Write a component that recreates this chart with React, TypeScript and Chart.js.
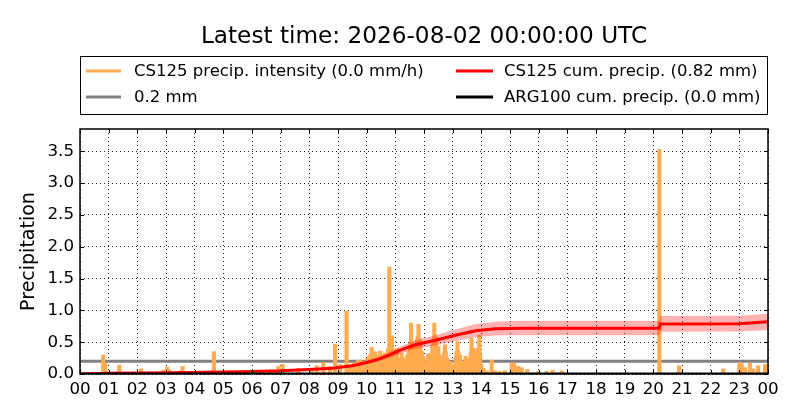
import React, { useEffect, useRef } from "react";
import { Chart, registerables } from "chart.js";

Chart.register(...registerables);

const titleText = "Latest time: 2026-08-02 00:00:00 UTC";
const yAxisTitle = "Precipitation";

const hourLabels = [
  "00", "01", "02", "03", "04", "05", "06", "07", "08", "09", "10", "11",
  "12", "13", "14", "15", "16", "17", "18", "19", "20", "21", "22", "23", "00",
];

const legendLabels = [
  "CS125 precip. intensity (0.0 mm/h)",
  "0.2 mm",
  "CS125 cum. precip. (0.82 mm)",
  "ARG100 cum. precip. (0.0 mm)",
];

// CS125 precipitation intensity (mm/h), hour of day
const intensityHours = [
  0.81, 0.88, 1.37, 2.13, 2.91, 3.04, 3.1, 3.5, 3.58, 4.67,
  6.69, 6.92, 7.07, 7.62, 8.08, 8.26, 8.49, 8.72, 8.9, 9.07,
  9.3, 9.42, 9.5, 9.55, 9.62, 9.7, 9.77, 9.85, 9.9, 9.98,
  10.03, 10.1, 10.17, 10.23, 10.29, 10.34, 10.38, 10.43, 10.47, 10.51,
  10.56, 10.6, 10.64, 10.68, 10.72, 10.75, 10.79, 10.83, 10.88, 10.92,
  10.96, 11.0, 11.05, 11.09, 11.14, 11.18, 11.22, 11.26, 11.3, 11.34,
  11.37, 11.42, 11.46, 11.51, 11.55, 11.58, 11.62, 11.66, 11.69, 11.72,
  11.75, 11.78, 11.81, 11.85, 11.88, 11.93, 11.98, 12.02, 12.06, 12.1,
  12.15, 12.18, 12.22, 12.26, 12.29, 12.33, 12.36, 12.4, 12.43, 12.47,
  12.5, 12.53, 12.56, 12.59, 12.62, 12.65, 12.68, 12.71, 12.73, 12.76,
  12.8, 12.85, 12.9, 12.95, 13.02, 13.06, 13.1, 13.13, 13.17, 13.21,
  13.25, 13.3, 13.37, 13.41, 13.45, 13.49, 13.52, 13.56, 13.59, 13.63,
  13.66, 13.69, 13.72, 13.75, 13.78, 13.82, 13.86, 13.9, 13.93, 13.96,
  14.0, 14.07, 14.2, 14.36, 14.48, 14.64, 14.82, 15.06, 15.14, 15.22,
  15.29, 15.41, 15.6, 15.99, 16.28, 16.49, 16.8, 20.21, 20.9, 22.44,
  23.0, 23.08, 23.2, 23.37, 23.49, 23.66, 23.9,
];
const intensityValues = [
  0.3, 0.17, 0.14, 0.08, 0.06, 0.11, 0.07, 0.05, 0.12, 0.35,
  0.06, 0.12, 0.15, 0.09, 0.08, 0.13, 0.18, 0.12, 0.47, 0.15,
  0.99, 0.14, 0.15, 0.17, 0.18, 0.21, 0.22, 0.2, 0.2, 0.19,
  0.25, 0.3, 0.42, 0.3, 0.35, 0.25, 0.3, 0.28, 0.36, 0.3,
  0.28, 0.25, 0.33, 0.3, 0.25, 0.4, 1.68, 0.5, 0.6, 0.3,
  0.37, 0.3, 0.4, 0.25, 0.22, 0.2, 0.33, 0.25, 0.18, 0.2,
  0.25, 0.3, 0.35, 0.45, 0.8, 0.5, 0.45, 0.35, 0.4, 0.45,
  0.55, 0.6, 0.78, 0.55, 0.5, 0.35, 0.27, 0.2, 0.15, 0.2,
  0.32, 0.28, 0.25, 0.3, 0.45, 0.55, 0.8, 0.6, 0.5, 0.4,
  0.43, 0.3, 0.25, 0.2, 0.21, 0.25, 0.3, 0.35, 0.46, 0.35,
  0.25, 0.2, 0.2, 0.15, 0.12, 0.15, 0.25, 0.35, 0.51, 0.35,
  0.3, 0.2, 0.2, 0.2, 0.28, 0.2, 0.15, 0.2, 0.25, 0.35,
  0.56, 0.4, 0.3, 0.3, 0.4, 0.3, 0.25, 0.4, 0.61, 0.3,
  0.15, 0.09, 0.05, 0.22, 0.05, 0.04, 0.05, 0.17, 0.17, 0.1,
  0.12, 0.1, 0.07, 0.04, 0.04, 0.06, 0.05, 3.53, 0.13, 0.08,
  0.18, 0.16, 0.1, 0.17, 0.08, 0.13, 0.15,
];

// CS125 cumulative precipitation (mm) with uncertainty band
const cumHours = [
  0, 1, 3, 5, 6, 7, 8, 8.8, 9.5, 10, 10.4, 10.8, 11.2, 11.7, 12.4,
  13.1, 13.8, 14.5, 15.5, 20.2, 20.25, 23, 24,
];
const cumValues = [
  0, 0.01, 0.02, 0.03, 0.04, 0.05, 0.07, 0.09, 0.13, 0.18, 0.23, 0.3, 0.38,
  0.46, 0.53, 0.61, 0.68, 0.71, 0.72, 0.72, 0.785, 0.79, 0.82,
];
const cumLower = [
  0, 0.0085, 0.017, 0.026, 0.034, 0.043, 0.06, 0.077, 0.11, 0.153, 0.196,
  0.255, 0.323, 0.391, 0.45, 0.519, 0.578, 0.604, 0.608, 0.608, 0.662, 0.668,
  0.69,
];
const cumUpper = [
  0, 0.0115, 0.023, 0.035, 0.046, 0.058, 0.08, 0.104, 0.15, 0.207, 0.265,
  0.345, 0.437, 0.529, 0.61, 0.7, 0.785, 0.822, 0.835, 0.835, 0.91, 0.915,
  0.945,
];

// ARG100 cumulative precipitation (mm)
const argHours = [0, 24];
const argValues = [0, 0];

// 0.2 mm reference line
const thresholdHours = [0, 24];
const thresholdValues = [0.2, 0.2];

const FONT = '"DejaVu Sans", "Liberation Sans", sans-serif';
const ORANGE = "#ffab50";
const GRAY = "#808080";
const RED = "#ff0000";
const BAND = "rgba(255,0,0,0.3)";

const xy = (xs: number[], ys: number[]) => xs.map((x, i) => ({ x, y: ys[i] }));

const decorPlugin = {
  id: "decor",
  afterDraw(chart: any) {
    const { ctx, chartArea: a } = chart;
    const xs = chart.scales.x;
    const ys = chart.scales.y;
    ctx.save();
    // inner ticks
    ctx.strokeStyle = "#000";
    ctx.lineWidth = 1;
    ctx.setLineDash([]);
    ctx.beginPath();
    xs.ticks.forEach((t: any) => {
      const px = Math.round(xs.getPixelForValue(t.value)) + 0.5;
      ctx.moveTo(px, a.bottom);
      ctx.lineTo(px, a.bottom - 4);
      ctx.moveTo(px, a.top);
      ctx.lineTo(px, a.top + 4);
    });
    ys.ticks.forEach((t: any) => {
      const py = Math.round(ys.getPixelForValue(t.value)) + 0.5;
      ctx.moveTo(a.left, py);
      ctx.lineTo(a.left + 4, py);
      ctx.moveTo(a.right, py);
      ctx.lineTo(a.right - 4, py);
    });
    ctx.stroke();
    // frame
    ctx.lineWidth = 1.5;
    ctx.strokeRect(a.left, a.top, a.right - a.left, a.bottom - a.top);

    // title
    ctx.fillStyle = "#000";
    ctx.font = `23.2px ${FONT}`;
    ctx.textAlign = "center";
    ctx.textBaseline = "alphabetic";
    ctx.fillText(titleText, (a.left + a.right) / 2, 43);

    // legend
    const boxL = a.left;
    const boxR = a.right;
    ctx.lineWidth = 1;
    ctx.strokeStyle = "#000";
    ctx.strokeRect(boxL + 0.5, 56.5, boxR - boxL - 1, 58);
    const colors = [ORANGE, GRAY, RED, "#000"];
    const entries = [
      { x0: 86, x1: 121, tx: 134, y: 71 },
      { x0: 86, x1: 121, tx: 134, y: 97 },
      { x0: 456, x1: 493, tx: 504, y: 71 },
      { x0: 456, x1: 493, tx: 504, y: 97 },
    ];
    ctx.font = `16.5px ${FONT}`;
    ctx.textAlign = "left";
    ctx.textBaseline = "middle";
    entries.forEach((e, i) => {
      ctx.strokeStyle = colors[i];
      ctx.lineWidth = 3;
      ctx.beginPath();
      ctx.moveTo(e.x0, e.y);
      ctx.lineTo(e.x1, e.y);
      ctx.stroke();
      ctx.fillStyle = "#000";
      ctx.fillText(legendLabels[i], e.tx, e.y + 1);
    });
    ctx.restore();
  },
};

export default function App() {
  const ref = useRef<HTMLCanvasElement | null>(null);

  useEffect(() => {
    if (!ref.current) return;
    const chart = new Chart(ref.current, {
      type: "line",
      data: {
        datasets: [
          {
            type: "line",
            label: "ARG100",
            data: xy(argHours, argValues),
            borderColor: "#000",
            borderWidth: 3,
            pointRadius: 0,
            order: 1,
          },
          {
            type: "line",
            label: "CS125 cum",
            data: xy(cumHours, cumValues),
            borderColor: RED,
            borderWidth: 3,
            pointRadius: 0,
            order: 2,
          },
          {
            type: "line",
            label: "upper",
            data: xy(cumHours, cumUpper),
            borderWidth: 0,
            borderColor: "rgba(0,0,0,0)",
            backgroundColor: BAND,
            pointRadius: 0,
            fill: "+1",
            order: 4,
          },
          {
            type: "line",
            label: "lower",
            data: xy(cumHours, cumLower),
            borderWidth: 0,
            borderColor: "rgba(0,0,0,0)",
            pointRadius: 0,
            fill: false,
            order: 4,
          },
          {
            type: "bar",
            label: "intensity",
            data: xy(intensityHours, intensityValues) as any,
            backgroundColor: ORANGE,
            borderWidth: 0,
            barThickness: 3.5,
            order: 5,
          },
          {
            type: "line",
            label: "threshold",
            data: xy(thresholdHours, thresholdValues),
            borderColor: GRAY,
            borderWidth: 3,
            pointRadius: 0,
            order: 6,
          },
        ],
      },
      options: {
        animation: false,
        responsive: false,
        devicePixelRatio: 1,
        layout: { padding: { top: 129, right: 32, left: 0, bottom: 0 } },
        plugins: {
          legend: { display: false },
          title: { display: false },
          tooltip: { enabled: false },
        },
        font: { family: FONT },
        scales: {
          x: {
            type: "linear",
            min: 0,
            max: 24,
            offset: false,
            afterFit: (s: any) => {
              s.height = 46;
            },
            ticks: {
              stepSize: 1,
              autoSkip: false,
              includeBounds: false,
              maxRotation: 0,
              padding: 6,
              color: "#000",
              font: { family: FONT, size: 16.7 },
              callback: (v: any) => hourLabels[Number(v)] ?? "",
            },
            grid: {
              color: "rgba(0,0,0,0.85)",
              lineWidth: 1,
              drawTicks: false,
              offset: false,
            },
            border: { display: false, dash: [1, 3] },
          },
          y: {
            type: "linear",
            min: 0,
            max: 3.85,
            afterFit: (s: any) => {
              s.width = 80;
            },
            ticks: {
              stepSize: 0.5,
              includeBounds: false,
              padding: 6,
              color: "#000",
              font: { family: FONT, size: 16.7 },
              callback: (v: any) => Number(v).toFixed(1),
            },
            grid: {
              color: "rgba(0,0,0,0.85)",
              lineWidth: 1,
              drawTicks: false,
            },
            border: { display: false, dash: [1, 3] },
            title: {
              display: true,
              text: yAxisTitle,
              color: "#000",
              font: { family: FONT, size: 19 },
              padding: { top: 18, bottom: 0 },
            },
          },
        },
      },
      plugins: [decorPlugin],
    } as any);
    return () => chart.destroy();
  }, []);

  return (
    <div style={{ position: "absolute", left: 0, top: 0, width: 800, height: 420, background: "#fff" }}>
      <canvas ref={ref} width={800} height={420} style={{ width: 800, height: 420, display: "block" }} />
    </div>
  );
}
